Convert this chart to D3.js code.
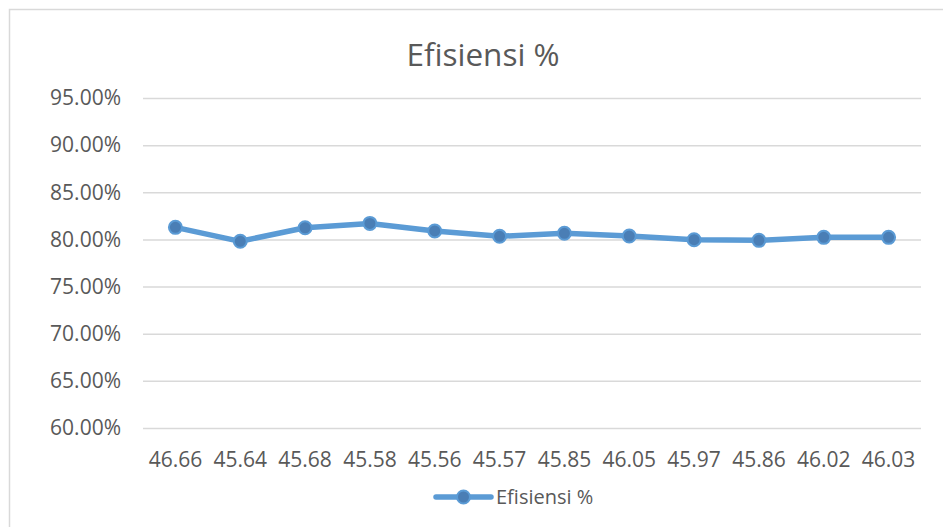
<!DOCTYPE html>
<html>
<head>
<meta charset="utf-8">
<script src="https://cdn.jsdelivr.net/npm/d3@7"></script>
<style>
  html, body { margin: 0; padding: 0; background: #fff; }
  svg { display: block; }
  text { font-family: "Open Sans", "Liberation Sans", sans-serif; fill: #595959; }
</style>
</head>
<body>
<svg id="chart" width="943" height="527"></svg>
<script>
// Flow readings (x categories) and efficiency values
const categories = ["46.66", "45.64", "45.68", "45.58", "45.56", "45.57", "45.85", "46.05", "45.97", "45.86", "46.02", "46.03"];
const efficiency = [0.8128, 0.7980, 0.8124, 0.8170, 0.8090, 0.8033, 0.8065, 0.8036, 0.7997, 0.7990, 0.8022, 0.8022];
const yTicks = [0.60, 0.65, 0.70, 0.75, 0.80, 0.85, 0.90, 0.95];
const seriesName = "Efisiensi %";

const svg = d3.select("#chart");
const lineColor = "#5B9BD5";
const markerFill = "#4A7EB5";
const fontStack = '"Open Sans", "Liberation Sans", sans-serif';

// Chart frame
svg.append("rect")
  .attr("x", 9.5).attr("y", 9.5)
  .attr("width", 960).attr("height", 540)
  .attr("fill", "none").attr("stroke", "#D9D9D9").attr("stroke-width", 1.5);

const plot = { left: 143, right: 921, top: 98, bottom: 428 };

const x = d3.scaleBand().domain(categories).range([plot.left, plot.right]);
const y = d3.scaleLinear().domain([0.60, 0.95]).range([plot.bottom, plot.top]);

// Title
svg.append("text")
  .attr("x", 483).attr("y", 66)
  .attr("text-anchor", "middle")
  .attr("font-size", 31.5)
  .text("Efisiensi %");

// Gridlines + y labels
const yAxis = d3.axisLeft(y).tickValues(yTicks)
  .tickFormat(d3.format(".2%"))
  .tickSize(-(plot.right - plot.left)).tickPadding(22);
const gy = svg.append("g").attr("transform", `translate(${plot.left},0)`).call(yAxis);
gy.select(".domain").remove();
gy.selectAll(".tick line").attr("stroke", "#D9D9D9").attr("stroke-width", 1.5);
gy.selectAll(".tick text").attr("font-size", 21).attr("fill", "#595959")
  .style("font-family", fontStack);

// x labels
const xAxis = d3.axisBottom(x).tickSize(0).tickPadding(24);
const gx = svg.append("g").attr("transform", `translate(0,${plot.bottom})`).call(xAxis);
gx.select(".domain").remove();
gx.selectAll(".tick text").attr("font-size", 21).attr("fill", "#595959")
  .style("font-family", fontStack);

// Series line
const pts = categories.map((c, i) => ({ c, v: efficiency[i] }));
const line = d3.line().x(d => x(d.c) + x.bandwidth() / 2).y(d => y(d.v));
svg.append("path")
  .datum(pts)
  .attr("d", line)
  .attr("fill", "none")
  .attr("stroke", lineColor)
  .attr("stroke-width", 5.5)
  .attr("stroke-linejoin", "round")
  .attr("stroke-linecap", "round");

svg.append("g").selectAll("circle")
  .data(pts).join("circle")
  .attr("cx", d => x(d.c) + x.bandwidth() / 2)
  .attr("cy", d => y(d.v))
  .attr("r", 6.5)
  .attr("fill", markerFill)
  .attr("stroke", lineColor)
  .attr("stroke-width", 2);

// Legend
const lg = svg.append("g").attr("transform", "translate(436,497)");
lg.append("line").attr("x1", 0).attr("x2", 55).attr("y1", 0).attr("y2", 0)
  .attr("stroke", lineColor).attr("stroke-width", 5.5).attr("stroke-linecap", "round");
lg.append("circle").attr("cx", 27.5).attr("cy", 0).attr("r", 6.5)
  .attr("fill", markerFill).attr("stroke", lineColor).attr("stroke-width", 2);
lg.append("text").attr("x", 60).attr("y", 0).attr("dy", "0.35em")
  .attr("font-size", 20).text(seriesName);
</script>
</body>
</html>
